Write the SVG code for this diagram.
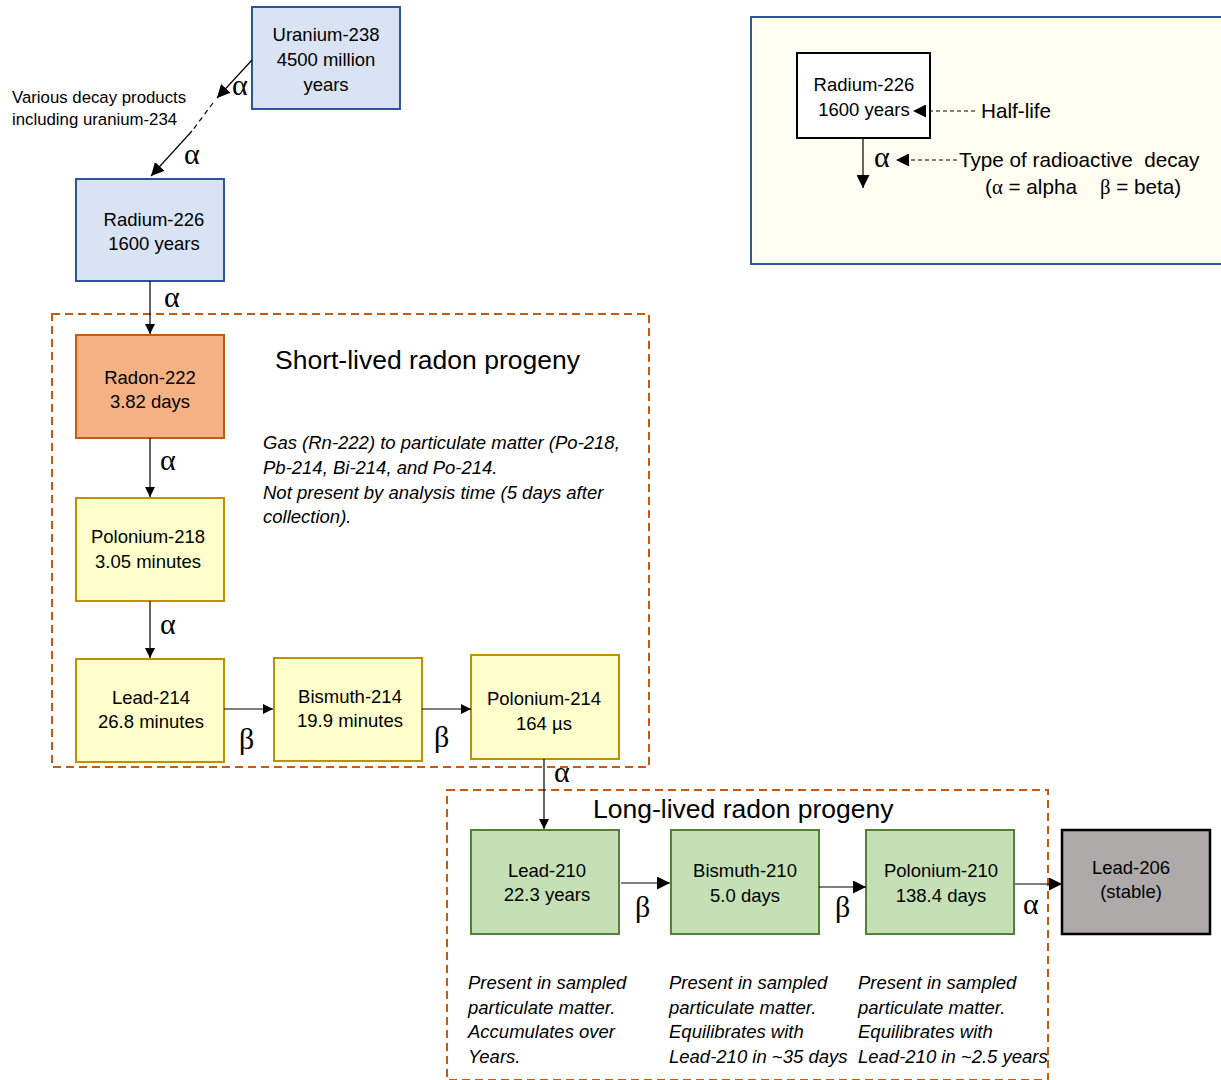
<svg xmlns="http://www.w3.org/2000/svg" width="1221" height="1080" viewBox="0 0 1221 1080">
<defs>
<marker id="ah" viewBox="0 0 10 10" refX="10" refY="5" markerWidth="10" markerHeight="10" markerUnits="userSpaceOnUse" orient="auto"><path d="M0,0 L10,5 L0,10 z" fill="#000"/></marker>
<marker id="ahb" viewBox="0 0 10 10" refX="10" refY="5" markerWidth="13" markerHeight="13" markerUnits="userSpaceOnUse" orient="auto"><path d="M0,0 L10,5 L0,10 z" fill="#000"/></marker>
</defs>
<style>
text{font-family:"Liberation Sans",Arial,sans-serif;fill:#000}
.n{font-size:18.5px;text-anchor:middle}
.g{font-family:"Liberation Serif","Times New Roman",serif;font-size:30px}
.it{font-style:italic;font-size:18.5px}
.t{font-size:26.5px}
.lg{font-size:20.7px}
.blue{fill:#dae3f3;stroke:#2f5597;stroke-width:2}
.rn{fill:#f4b183;stroke:#c55a11;stroke-width:2}
.yl{fill:#ffffcc;stroke:#bf9000;stroke-width:2}
.gr{fill:#c5e0b4;stroke:#548235;stroke-width:2}
.grp{fill:none;stroke:#c55a11;stroke-width:2;stroke-dasharray:8 5}
.c{stroke:#000;stroke-width:1.2;fill:none}
</style>
<rect x="751" y="17" width="475" height="247" fill="#fffcf2" stroke="#2f5597" stroke-width="2"/>
<rect class="grp" x="52" y="314" width="597" height="453"/>
<rect class="grp" x="447" y="790" width="601" height="290"/>
<g id="legend">
<rect x="797" y="53" width="133" height="85" fill="#fff" stroke="#000" stroke-width="2"/>
<text class="n" x="864" y="91">Radium-226</text>
<text class="n" x="864" y="116">1600 years</text>
<text class="lg" x="981" y="118">Half-life</text>
<text class="g" x="874" y="167">α</text>
<text class="lg" x="959" y="167" xml:space="preserve">Type of radioactive  decay</text>
<text class="lg" x="985" y="194" xml:space="preserve">(<tspan font-family="Liberation Serif,serif">α</tspan> = alpha    <tspan font-family="Liberation Serif,serif">β</tspan> = beta)</text>
</g>
<g id="u238"><rect class="blue" x="252" y="7" width="148" height="102"/>
<text class="n" x="326" y="41">Uranium-238</text><text class="n" x="326" y="66">4500 million</text><text class="n" x="326" y="91">years</text></g>
<g id="ra226"><rect class="blue" x="76" y="179" width="148" height="102"/>
<text class="n" x="154" y="226">Radium-226</text><text class="n" x="154" y="250">1600 years</text></g>
<g id="rn222"><rect class="rn" x="76" y="335" width="148" height="103"/>
<text class="n" x="150" y="384">Radon-222</text><text class="n" x="150" y="408">3.82 days</text></g>
<g id="po218"><rect class="yl" x="76" y="498" width="148" height="103"/>
<text class="n" x="148" y="543">Polonium-218</text><text class="n" x="148" y="568">3.05 minutes</text></g>
<g id="pb214"><rect class="yl" x="76" y="659" width="148" height="103"/>
<text class="n" x="151" y="704">Lead-214</text><text class="n" x="151" y="728">26.8 minutes</text></g>
<g id="bi214"><rect class="yl" x="274" y="658" width="148" height="103"/>
<text class="n" x="350" y="703">Bismuth-214</text><text class="n" x="350" y="727">19.9 minutes</text></g>
<g id="po214"><rect class="yl" x="471" y="655" width="148" height="104"/>
<text class="n" x="544" y="705">Polonium-214</text><text class="n" x="544" y="730">164 µs</text></g>
<g id="pb210"><rect class="gr" x="471" y="830" width="148" height="104"/>
<text class="n" x="547" y="877">Lead-210</text><text class="n" x="547" y="901">22.3 years</text></g>
<g id="bi210"><rect class="gr" x="671" y="830" width="148" height="104"/>
<text class="n" x="745" y="877">Bismuth-210</text><text class="n" x="745" y="902">5.0 days</text></g>
<g id="po210"><rect class="gr" x="866" y="830" width="148" height="104"/>
<text class="n" x="941" y="877">Polonium-210</text><text class="n" x="941" y="902">138.4 days</text></g>
<g id="pb206"><rect x="1062" y="830" width="148" height="104" fill="#aeaaaa" stroke="#000" stroke-width="2.5"/>
<text class="n" x="1131" y="874">Lead-206</text><text class="n" x="1131" y="898">(stable)</text></g>
<g id="labels">
<text x="12" y="103" font-size="16.8px">Various decay products</text>
<text x="12" y="125" font-size="16.8px">including uranium-234</text>
<text class="t" x="275" y="369">Short-lived radon progeny</text>
<text class="t" x="593" y="818">Long-lived radon progeny</text>
<text class="it" x="263" y="449">Gas (Rn-222) to particulate matter (Po-218,</text>
<text class="it" x="263" y="474">Pb-214, Bi-214, and Po-214.</text>
<text class="it" x="263" y="499">Not present by analysis time (5 days after</text>
<text class="it" x="263" y="523">collection).</text>
<text class="it" x="468" y="989">Present in sampled</text>
<text class="it" x="468" y="1014">particulate matter.</text>
<text class="it" x="468" y="1038">Accumulates over</text>
<text class="it" x="468" y="1063">Years.</text>
<text class="it" x="669" y="989">Present in sampled</text>
<text class="it" x="669" y="1014">particulate matter.</text>
<text class="it" x="669" y="1038">Equilibrates with</text>
<text class="it" x="669" y="1063">Lead-210 in ~35 days</text>
<text class="it" x="858" y="989">Present in sampled</text>
<text class="it" x="858" y="1014">particulate matter.</text>
<text class="it" x="858" y="1038">Equilibrates with</text>
<text class="it" x="858" y="1063">Lead-210 in ~2.5 years</text>
<text class="g" x="232" y="95">α</text>
<text class="g" x="184" y="164">α</text>
<text class="g" x="164" y="307">α</text>
<text class="g" x="160" y="470">α</text>
<text class="g" x="160" y="634">α</text>
<text class="g" x="239" y="749">β</text>
<text class="g" x="434" y="747">β</text>
<text class="g" x="554" y="782">α</text>
<text class="g" x="635" y="917">β</text>
<text class="g" x="835" y="917">β</text>
<text class="g" x="1023" y="914">α</text>
</g>
<g id="connectors">
<line class="c" x1="252" y1="60" x2="217" y2="98" marker-end="url(#ahb)"/>
<line class="c" x1="213" y1="103" x2="192" y2="131" stroke-dasharray="5 4"/>
<line class="c" x1="192" y1="131" x2="151" y2="176" marker-end="url(#ahb)"/>
<line class="c" x1="150" y1="281" x2="150" y2="334" marker-end="url(#ah)"/>
<line class="c" x1="150" y1="438" x2="150" y2="497" marker-end="url(#ah)"/>
<line class="c" x1="150" y1="601" x2="150" y2="658" marker-end="url(#ah)"/>
<line class="c" x1="224" y1="709" x2="273" y2="709" marker-end="url(#ah)"/>
<line class="c" x1="422" y1="709" x2="471" y2="709" marker-end="url(#ah)"/>
<line class="c" x1="544" y1="759" x2="544" y2="829" marker-end="url(#ah)"/>
<line class="c" x1="621" y1="883" x2="670" y2="883" marker-end="url(#ahb)"/>
<line class="c" x1="819" y1="887" x2="866" y2="887" marker-end="url(#ahb)"/>
<line class="c" x1="1015" y1="884" x2="1062" y2="884" marker-end="url(#ahb)"/>
<line class="c" x1="975" y1="111" x2="913" y2="111" stroke-dasharray="4 3" marker-end="url(#ahb)"/>
<line class="c" x1="863" y1="138" x2="863" y2="188" marker-end="url(#ahb)"/>
<line class="c" x1="957" y1="160" x2="896" y2="160" stroke-dasharray="4 3" marker-end="url(#ahb)"/>
</g>
</svg>
